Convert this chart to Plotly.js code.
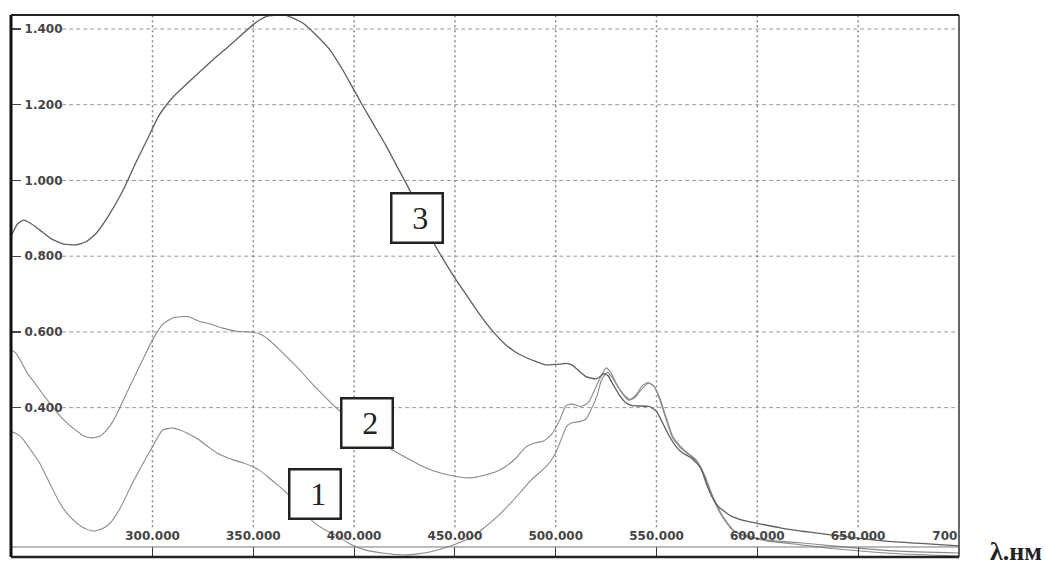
<!DOCTYPE html>
<html>
<head>
<meta charset="utf-8">
<script src="https://cdn.plot.ly/plotly-3.0.1.min.js"></script>
<style>html,body{margin:0;padding:0;background:#fff;}#chart{width:1046px;height:570px;}</style>
</head>
<body>
<div id="chart"></div>
<script>
// Wavelength (nm) and absorbance for each spectrum
const wl1 = [230,233,236,240,244,249,254,258,262.5,266,270.5,275,279,284,290,295,300,305,310,314,317,323,328,332,336,340,345,350,353,357,362,366.5,372,379.6,388,392,398,405,414,426,437,447,453,459,465,472,478,483.5,488,493.4,497,500.3,503,505.3,508,511.7,515,518,520.7,522.7,525.5,528,532,536,539,542,546,549,552,555,558,562,566,570,574,578,582.6,587.6,592.6,604.5,621,637,654,670,700];
const a1  = [0.337,0.33,0.315,0.285,0.254,0.2,0.148,0.118,0.095,0.082,0.074,0.08,0.095,0.135,0.2,0.25,0.297,0.341,0.346,0.34,0.333,0.315,0.295,0.28,0.27,0.262,0.254,0.244,0.235,0.218,0.196,0.175,0.145,0.099,0.07,0.06,0.04,0.025,0.016,0.011,0.018,0.033,0.045,0.059,0.085,0.117,0.15,0.183,0.21,0.235,0.255,0.284,0.32,0.35,0.36,0.363,0.37,0.4,0.435,0.473,0.493,0.48,0.445,0.42,0.425,0.445,0.465,0.455,0.415,0.365,0.32,0.293,0.276,0.258,0.215,0.16,0.112,0.077,0.062,0.048,0.038,0.028,0.02,0.014,0.008];

const wl2 = [230,232,235,238,241,245,249,253,257.5,262,266,270,274,278,282,286,290,295,300,305,310,314,318,323,328,335,343,348,353,358,363,368,373,378,383,391,400,410,419,425,432,440,447,453,459,465,470,475,480,485,490,494,498,502,505,508,512,516,520,522,525,527,531,535,537,540,543,546,549,552,555,558,562,566,570,574,578,583,588,593,605,621,637,654,670,700];
const a2  = [0.553,0.545,0.52,0.49,0.469,0.44,0.412,0.385,0.36,0.34,0.325,0.32,0.325,0.345,0.38,0.425,0.47,0.525,0.579,0.62,0.637,0.64,0.64,0.628,0.622,0.61,0.601,0.6,0.595,0.578,0.553,0.527,0.5,0.47,0.442,0.4,0.36,0.32,0.288,0.27,0.25,0.232,0.222,0.216,0.215,0.222,0.23,0.244,0.265,0.295,0.307,0.312,0.33,0.367,0.405,0.41,0.403,0.412,0.455,0.478,0.505,0.495,0.455,0.428,0.422,0.435,0.458,0.466,0.455,0.42,0.37,0.325,0.297,0.278,0.26,0.22,0.165,0.112,0.077,0.064,0.05,0.043,0.035,0.027,0.021,0.016];

const wl3 = [230,233,236,240,245,250,256,262,267,272,278,285,292,298,303,307,311,316,322,330,339,347,352,357,362,366,370,375,381,388,394,399,404,410,416,422,428,434,440,445,450,456,462,469,475,480,485,490,495,502,505,508,512,515,520,522,524,526,528,531.5,535,538,546.5,550,553,556.5,560,563,567,572,575,578,581,587.6,593,599.4,612,629,645.6,662,679,700];
const a3  = [0.855,0.885,0.895,0.885,0.865,0.845,0.832,0.83,0.838,0.86,0.905,0.97,1.05,1.115,1.17,1.2,1.225,1.25,1.28,1.319,1.36,1.398,1.42,1.434,1.437,1.436,1.428,1.414,1.385,1.345,1.295,1.248,1.2,1.145,1.09,1.03,0.97,0.905,0.83,0.785,0.742,0.695,0.648,0.6,0.567,0.547,0.533,0.522,0.513,0.515,0.517,0.513,0.495,0.482,0.476,0.482,0.49,0.484,0.465,0.434,0.412,0.405,0.403,0.39,0.36,0.323,0.295,0.28,0.268,0.24,0.195,0.16,0.137,0.112,0.102,0.095,0.082,0.069,0.058,0.048,0.042,0.035];

// Axis ticks
const xTicks = [300,350,400,450,500,550,600,650];
const xTickText = ['300.000','350.000','400.000','450.000','500.000','550.000','600.000','650.000'];
const xEndTick = [700];
const xEndTickText = ['700'];
const yTicks = [0.4,0.6,0.8,1.0,1.2,1.4];
const yTickText = ['0.400','0.600','0.800','1.000','1.200','1.400'];

// Curve labels
const labelText = ['1','2','3'];
const labelX = [380.7, 406.2, 431.2];
const labelY = [0.171, 0.36, 0.901];

const xRange = [229.8, 700.05];
const yRange = [0.0055, 1.437];

const lightGrey = '#8a8a8a';
const darkGrey = '#5e5e5e';

const traces = [
  {x: wl1, y: a1, type:'scatter', mode:'lines', line:{color:lightGrey, width:1.1, shape:'spline', smoothing:0.5}, hoverinfo:'skip'},
  {x: wl2, y: a2, type:'scatter', mode:'lines', line:{color:lightGrey, width:1.1, shape:'spline', smoothing:0.5}, hoverinfo:'skip'},
  {x: wl3, y: a3, type:'scatter', mode:'lines', line:{color:darkGrey, width:1.3, shape:'spline', smoothing:0.5}, hoverinfo:'skip'}
];

const tickFont = {family:'DejaVu Sans', size:12, color:'#444', weight:'bold'};

const shapes = [];
// horizontal dashed grid (start after the tick labels)
yTicks.forEach(v => shapes.push({type:'line', xref:'paper', yref:'y', x0:0.054, x1:1, y0:v, y1:v, line:{color:'#999', width:1, dash:'4px,3px'}, layer:'below'}));
// vertical dotted grid (stop above the tick labels)
xTicks.forEach(v => shapes.push({type:'line', xref:'x', yref:'paper', x0:v, x1:v, y0:0.055, y1:1, line:{color:'#888', width:1.5, dash:'2px,3px'}, layer:'below'}));
// baseline strip line
shapes.push({type:'line', xref:'paper', yref:'paper', x0:0, x1:1, y0:0.0185, y1:0.0185, line:{color:'#777', width:1}});
// frame
shapes.push({type:'line', xref:'paper', yref:'paper', x0:0, x1:0, y0:0, y1:1, line:{color:'#111', width:3}});
shapes.push({type:'line', xref:'paper', yref:'paper', x0:0, x1:1, y0:1, y1:1, line:{color:'#222', width:2}});
shapes.push({type:'line', xref:'paper', yref:'paper', x0:1, x1:1, y0:0, y1:1, line:{color:'#333', width:1.5}});
shapes.push({type:'line', xref:'paper', yref:'paper', x0:0, x1:1, y0:0, y1:0, line:{color:'#222', width:2.5}});

const annotations = labelText.map((t,i) => ({
  x: labelX[i], y: labelY[i], xref:'x', yref:'y', text:'\u2009'+t, showarrow:false,
  xanchor:'center', yanchor:'middle', width:49, height:47, borderpad:0,
  bgcolor:'#fff', bordercolor:'#222', borderwidth:2.5,
  font:{family:'Liberation Serif', size:32, color:'#222'}
}));
annotations.push({
  xref:'paper', yref:'paper', x:1.0305, y:0.01, xanchor:'left', yanchor:'middle',
  text:'λ.нм', showarrow:false,
  font:{family:'Liberation Serif', size:26, color:'#222', weight:'bold'}
});

const layout = {
  width:1046, height:570,
  margin:{l:11, r:87, t:15, b:13, pad:0},
  paper_bgcolor:'#fff', plot_bgcolor:'#fff',
  showlegend:false,
  xaxis:{range:xRange, tickmode:'array', tickvals:xTicks, ticktext:xTickText,
    ticks:'inside', ticklen:10, tickwidth:1, tickcolor:'#333',
    ticklabelposition:'inside', ticklabelstandoff:4, tickfont:tickFont,
    showgrid:false, zeroline:false, showline:false, fixedrange:true},
  xaxis2:{range:xRange, overlaying:'x', side:'bottom', tickmode:'array', tickvals:xEndTick, ticktext:xEndTickText,
    ticks:'inside', ticklen:10, tickcolor:'rgba(0,0,0,0)', ticklabelposition:'inside', ticklabelstandoff:4, ticklabelshift:-14, tickfont:tickFont,
    showgrid:false, zeroline:false, showline:false, fixedrange:true},
  yaxis:{range:yRange, tickmode:'array', tickvals:yTicks, ticktext:yTickText,
    ticks:'inside', ticklen:10, tickwidth:1.2, tickcolor:'#444',
    ticklabelposition:'inside', ticklabelstandoff:3, tickfont:tickFont,
    showgrid:false, zeroline:false, showline:false, fixedrange:true},
  shapes: shapes,
  annotations: annotations
};

// invisible trace to activate xaxis2
traces.push({x:[xRange[0]], y:[yRange[0]], xaxis:'x2', type:'scatter', mode:'markers', marker:{opacity:0}, hoverinfo:'skip'});

Plotly.newPlot('chart', traces, layout, {staticPlot:true, displayModeBar:false});
</script>
</body>
</html>
